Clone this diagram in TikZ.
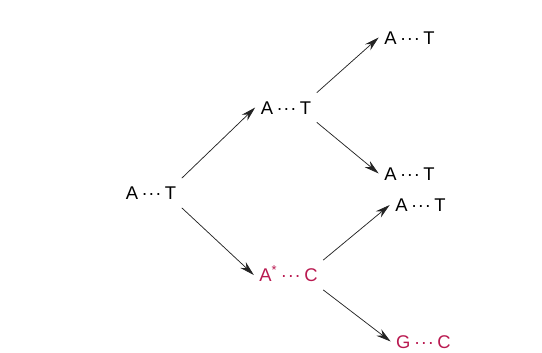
\documentclass[tikz,border=0pt]{standalone}
\usepackage{fontspec}
\setmainfont{Liberation Sans}
\usetikzlibrary{arrows.meta,positioning}
\definecolor{mutred}{RGB}{185,25,80}
\definecolor{lineblack}{RGB}{35,35,35}
\newcommand{\bpair}[2]{#1\kern2.6pt\textperiodcentered\kern0.6pt\textperiodcentered\kern0.6pt\textperiodcentered\kern2.6pt#2}
\tikzset{
  pairnode/.style={inner xsep=4pt,inner ysep=6pt,text height=9.9pt,text depth=0pt,
    font=\fontsize{13.8}{16}\selectfont,text=black},
  mutnode/.style={pairnode,text=mutred},
  arr/.style={-{Stealth[length=11pt,width=6pt]},line width=0.55pt,color=lineblack}
}
\begin{document}
\begin{tikzpicture}[x=0.75pt,y=-0.75pt]
  \useasboundingbox (0,0) rectangle (542,353);
  %% generation 0
  \node[pairnode] (root) at (151,193) {\bpair{A}{T}};
  %% generation 1
  \node[pairnode] (topmid) at (286,107.5) {\bpair{A}{T}};
  \node[mutnode] (mutmid) at (288.5,275) {\bpair{A\textsuperscript{*}}{C}};
  %% generation 2
  \node[pairnode] (top1) at (409.5,37.5) {\bpair{A}{T}};
  \node[pairnode] (top2) at (409.5,173.5) {\bpair{A}{T}};
  \node[pairnode] (bot1) at (420.5,205) {\bpair{A}{T}};
  \node[mutnode] (bot2) at (423.5,341.5) {\bpair{G}{C}};

  %% Arrows
  \draw[arr] (root.north east) -- (topmid.west);
  \draw[arr] (root.south east) -- (mutmid.west);
  \draw[arr] (topmid.north east) -- (top1.west);
  \draw[arr] (topmid.south east) -- (top2.west);
  \draw[arr] (mutmid.north east) -- (bot1.west);
  \draw[arr] (mutmid.south east) -- (bot2.west);
\end{tikzpicture}
\end{document}
